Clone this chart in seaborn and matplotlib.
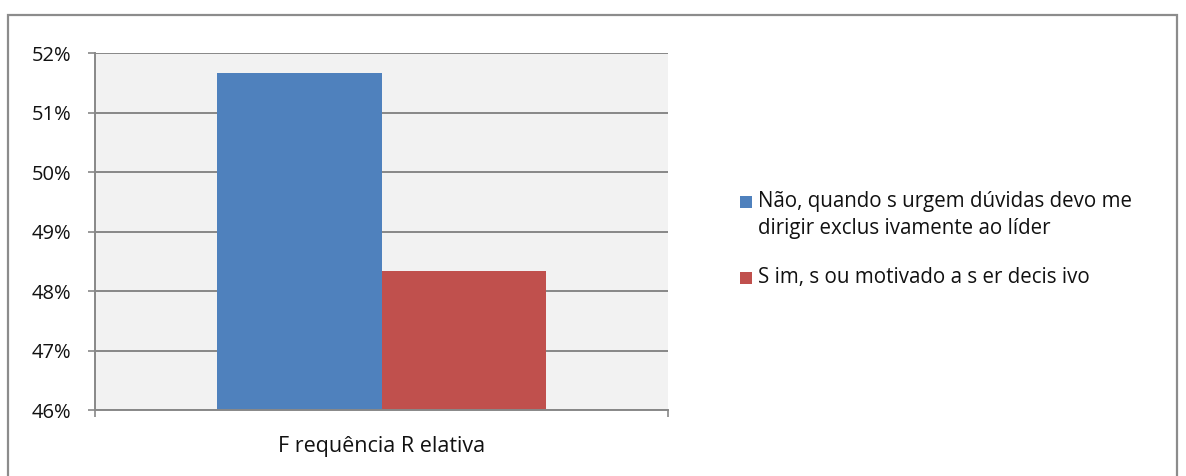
import matplotlib
matplotlib.use("Agg")
import matplotlib.pyplot as plt
import matplotlib.patches as mpatches
from matplotlib.ticker import PercentFormatter, FixedLocator
import seaborn as sns
import pandas as pd

# Data
categories = ["F requência R elativa"]
series = ["Não, quando s urgem dúvidas devo me\ndirigir exclus ivamente ao líder",
          "S im, s ou motivado a s er decis ivo"]
values = [0.5167, 0.4833]
colors = ["#4F81BD", "#C0504D"]
y_ticks = [0.46, 0.47, 0.48, 0.49, 0.50, 0.51, 0.52]

df = pd.DataFrame({"cat": categories * len(series), "serie": series, "valor": values})

sns.set_theme(style="white")
plt.rcParams["font.family"] = ["Open Sans", "DejaVu Sans"]

W, H = 1186, 476
fig = plt.figure(figsize=(W / 100, H / 100), dpi=100)
ax = fig.add_axes([95 / W, 1 - 410 / H, (668 - 95) / W, (410 - 53) / H])

grid_c = "#888888"
txt_c = "#111111"
sns.barplot(data=df, x="cat", y="valor", hue="serie", palette=colors,
            width=0.573, dodge=True, ax=ax, legend=False, saturation=1,
            linewidth=0, edgecolor="none")

ax.set_facecolor("#F2F2F2")
ax.set_xlim(-0.5, 0.5)
ax.set_ylim(y_ticks[0], y_ticks[-1])
ax.set_yticks(y_ticks)
ax.yaxis.set_major_formatter(PercentFormatter(1.0, decimals=0))
ax.yaxis.grid(True, color=grid_c, linewidth=1.4)
ax.set_axisbelow(True)
ax.set_xlabel("")
ax.set_ylabel("")

for side in ["top", "right"]:
    ax.spines[side].set_visible(False)
for side in ["left", "bottom"]:
    ax.spines[side].set_color(grid_c)
    ax.spines[side].set_linewidth(1.4)

ax.tick_params(axis="y", which="major", left=True, length=5, width=1.2,
               color=grid_c, pad=12, labelsize=14.5, labelcolor=txt_c)
ax.tick_params(axis="x", which="major", bottom=False, pad=13,
               labelsize=15.5, labelcolor=txt_c)
ax.xaxis.set_minor_locator(FixedLocator([-0.5, 0.5]))
ax.tick_params(axis="x", which="minor", bottom=True, length=5, width=1.2,
               color=grid_c)

# Legend drawn beside the plot
fig_tr = fig.transFigure
entries_y = [202, 278]
line_gap = 26
for col, lab, yy in zip(colors, series, entries_y):
    fig.patches.append(mpatches.Rectangle((740 / W, 1 - (yy + 6) / H), 12 / W, 12 / H,
                                          transform=fig_tr, facecolor=col,
                                          edgecolor="none"))
    for i, line in enumerate(lab.split("\n")):
        fig.text(758 / W, 1 - (yy + i * line_gap) / H, line, transform=fig_tr,
                 fontsize=14.8, va="center", ha="left", color=txt_c)

# Outer chart frame
fig.patches.append(mpatches.Rectangle((8 / W, -0.05), (1177 - 8) / W, 1 - 15 / H + 0.05,
                                      transform=fig_tr, facecolor="none",
                                      edgecolor="#8C8C8C", linewidth=1.6))

fig.savefig("out.png", dpi=100, facecolor="white")
